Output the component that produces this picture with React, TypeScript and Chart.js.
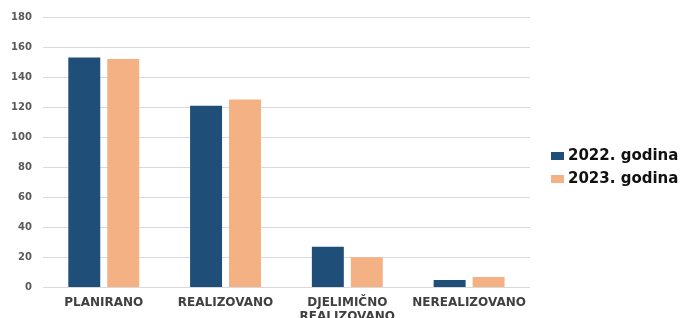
import React, { useEffect, useRef } from "react";
import { Chart, registerables } from "chart.js";

Chart.register(...registerables);

const categories: (string | string[])[] = [
  "PLANIRANO",
  "REALIZOVANO",
  ["DJELIMIČNO", "REALIZOVANO"],
  "NEREALIZOVANO",
];
const seriesNames = ["2022. godina", "2023. godina"];
const values2022 = [153, 121, 27, 5];
const values2023 = [152, 125, 20, 7];
const yMax = 180;
const yStep = 20;

const COLORS = ["#1f4e79", "#f4b183"];

const sideLegend = {
  id: "sideLegend",
  afterDraw(chart: any) {
    const ctx = chart.ctx;
    const items = chart.data.datasets;
    const x = chart.chartArea.right + 21;
    const cy = 167.5;
    const spacing = 23;
    ctx.save();
    ctx.font = "bold 15px 'DejaVu Sans'";
    ctx.textBaseline = "middle";
    ctx.textAlign = "left";
    items.forEach((ds: any, i: number) => {
      const y = cy + (i - (items.length - 1) / 2) * spacing;
      ctx.fillStyle = ds.backgroundColor;
      ctx.fillRect(x, y - 4, 13, 8);
      ctx.fillStyle = "#111111";
      ctx.fillText(ds.label, x + 17, y);
    });
    ctx.restore();
  },
};

export default function App() {
  const ref = useRef<HTMLCanvasElement | null>(null);
  useEffect(() => {
    if (!ref.current) return;
    const chart = new Chart(ref.current, {
      type: "bar",
      data: {
        labels: categories,
        datasets: [
          {
            label: seriesNames[0],
            data: values2022,
            backgroundColor: COLORS[0],
            categoryPercentage: 0.64,
            barPercentage: 0.82,
          },
          {
            label: seriesNames[1],
            data: values2023,
            backgroundColor: COLORS[1],
            categoryPercentage: 0.64,
            barPercentage: 0.82,
          },
        ],
      },
      plugins: [sideLegend],
      options: {
        responsive: false,
        animation: false,
        devicePixelRatio: 1,
        layout: { padding: { top: 11, left: 0, right: 154, bottom: 0 } },
        plugins: {
          tooltip: { enabled: false },
          legend: { display: false },
        },
        scales: {
          x: {
            grid: { display: false, drawTicks: false },
            border: { display: false },
            afterFit(scale: any) {
              scale.paddingLeft = 0;
              scale.paddingRight = 0;
            },
            ticks: {
              color: "#404040",
              padding: 8.5,
              maxRotation: 0,
              autoSkip: false,
              font: { family: "DejaVu Sans", size: 12, weight: "bold", lineHeight: 1.15 },
            },
          },
          y: {
            min: 0,
            max: yMax,
            border: { display: false },
            grid: { color: "#d9d9d9", drawTicks: false, lineWidth: 1 },
            ticks: {
              stepSize: yStep,
              padding: 11,
              color: "#595959",
              font: { family: "DejaVu Sans", size: 10, weight: "bold" },
            },
          },
        },
      },
    });
    return () => chart.destroy();
  }, []);
  return (
    <div style={{ position: "fixed", left: 0, top: 0, width: 684, height: 318, overflow: "hidden", background: "#fff" }}>
      <canvas ref={ref} width={684} height={332} style={{ display: "block" }} />
    </div>
  );
}
